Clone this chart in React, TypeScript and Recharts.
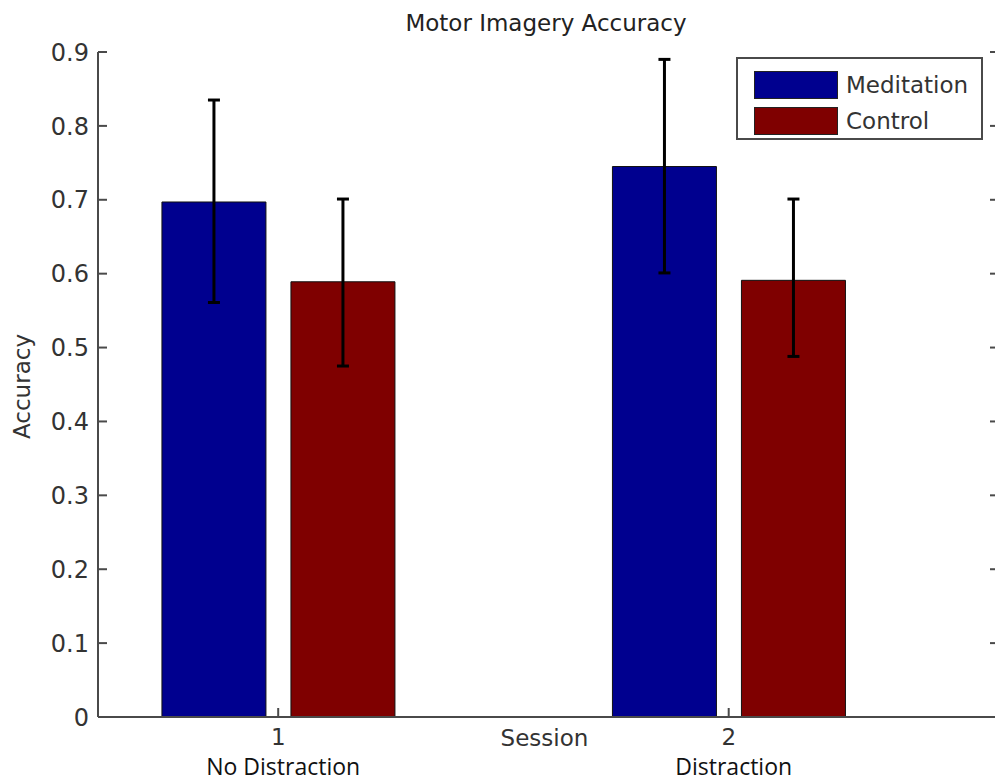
import React from "react";
import { BarChart, Bar, XAxis, YAxis, ErrorBar, Legend } from "recharts";

// values
const sessions = [1, 2];
const sessionNames = ["No Distraction", "Distraction"];
const seriesNames = ["Meditation", "Control"];
const meditation = [0.697, 0.745];
const meditationErr = [
  [0.136, 0.138],
  [0.144, 0.145],
];
const control = [0.589, 0.591];
const controlErr = [
  [0.114, 0.112],
  [0.103, 0.11],
];
const yTicks = [0, 0.1, 0.2, 0.3, 0.4, 0.5, 0.6, 0.7, 0.8, 0.9];

const data = sessions.map((s, i) => ({
  session: s,
  meditation: meditation[i],
  meditationErr: meditationErr[i],
  control: control[i],
  controlErr: controlErr[i],
}));

const FONT = '"DejaVu Sans", Arial, sans-serif';
const AXIS = "#4a4a4a";
const TEXT = "#333";
const TICK_LEN = 9;

const LeftTick = ({ x, y, payload }) => (
  <g>
    <line x1={x} x2={x + TICK_LEN} y1={y} y2={y} stroke={AXIS} strokeWidth={2} />
    <text
      x={x - 9}
      y={y}
      dy="0.36em"
      textAnchor="end"
      fontFamily={FONT}
      fontSize={24}
      fill={TEXT}
    >
      {payload.value}
    </text>
  </g>
);

const RightTick = ({ x, y }) => (
  <line x1={x - TICK_LEN} x2={x} y1={y} y2={y} stroke={AXIS} strokeWidth={2} />
);

const TopTick = ({ x, y }) => (
  <line x1={x} x2={x} y1={y} y2={y + TICK_LEN} stroke={AXIS} strokeWidth={2} />
);

const BottomTick = ({ x, y, payload, index }) => (
  <g>
    <line x1={x} x2={x} y1={y - TICK_LEN} y2={y} stroke={AXIS} strokeWidth={2} />
    <text x={x} y={y} dy={28} textAnchor="middle" fontFamily={FONT} fontSize={23} fill={TEXT}>
      {payload.value}
    </text>
    <text
      x={x + 5}
      y={y}
      dy={58}
      textAnchor="middle"
      fontFamily='"Open Sans", sans-serif'
      fontSize={23}
      fill="#111"
    >
      {sessionNames[index]}
    </text>
  </g>
);

const YLabel = ({ viewBox }) => {
  const cx = viewBox.x + 22;
  const cy = viewBox.y + viewBox.height / 2 + 2;
  return (
    <text
      x={cx}
      y={cy}
      transform={`rotate(-90, ${cx}, ${cy})`}
      textAnchor="middle"
      dominantBaseline="central"
      fontFamily={FONT}
      fontSize={23}
      fill={TEXT}
    >
      Accuracy
    </text>
  );
};

const XLabel = ({ viewBox }) => (
  <text
    x={viewBox.x + viewBox.width / 2 - 4}
    y={viewBox.y + 29}
    textAnchor="middle"
    fontFamily={FONT}
    fontSize={23}
    fill={TEXT}
  >
    Session
  </text>
);

const LegendBox = ({ payload }) => {
  const items = [...(payload || [])].sort(
    (a, b) => seriesNames.indexOf(a.value) - seriesNames.indexOf(b.value)
  );
  return (
    <div
      style={{
        border: `2px solid ${AXIS}`,
        background: "#fff",
        width: 247,
        height: 83,
        padding: "8px 0 0 16px",
        boxSizing: "border-box",
      }}
    >
      {items.map((p) => (
        <div key={p.value} style={{ display: "flex", alignItems: "center", height: 36 }}>
          <span
            style={{
              display: "inline-block",
              width: 84,
              height: 28,
              background: p.color,
              border: "1.5px solid #222",
              boxSizing: "border-box",
            }}
          />
          <span
            style={{
              marginLeft: 8,
              fontFamily: FONT,
              fontSize: 23,
              color: TEXT,
            }}
          >
            {p.value}
          </span>
        </div>
      ))}
    </div>
  );
};

export default function App() {
  return (
    <div
      style={{
        position: "absolute",
        left: 0,
        top: 0,
        width: 995,
        height: 783,
        overflow: "hidden",
        background: "#fff",
      }}
    >
      <div
        style={{
          position: "absolute",
          top: 10,
          left: 0,
          width: 1092,
          textAlign: "center",
          fontFamily: FONT,
          fontSize: 23,
          lineHeight: "26px",
          color: "#222",
          zIndex: 2,
        }}
      >
        Motor Imagery Accuracy
      </div>
      <BarChart
        width={1003}
        height={783}
        data={data}
        margin={{ top: 52, right: 0, bottom: 0, left: 0 }}
        barSize={104}
        barGap={25}
      >
        <XAxis
          xAxisId="bottom"
          dataKey="session"
          type="number"
          domain={[0.6, 2.6]}
          ticks={sessions}
          allowDataOverflow
          height={66}
          tickSize={0}
          tickMargin={0}
          tick={<BottomTick />}
          axisLine={{ stroke: AXIS, strokeWidth: 2 }}
          tickLine={false}
          label={<XLabel />}
        />
        <XAxis
          xAxisId="top"
          orientation="top"
          dataKey="session"
          type="number"
          domain={[0.6, 2.6]}
          ticks={sessions}
          allowDataOverflow
          height={0}
          tickSize={0}
          tickMargin={0}
          tick={<TopTick />}
          axisLine={{ stroke: AXIS, strokeWidth: 2 }}
          tickLine={false}
        />
        <YAxis
          yAxisId="left"
          domain={[0, 0.9]}
          ticks={yTicks}
          allowDataOverflow
          width={98}
          tickSize={0}
          tickMargin={0}
          tick={<LeftTick />}
          axisLine={{ stroke: AXIS, strokeWidth: 2 }}
          tickLine={false}
          label={<YLabel />}
        />
        <YAxis
          yAxisId="right"
          orientation="right"
          domain={[0, 0.9]}
          ticks={yTicks}
          allowDataOverflow
          width={4}
          tickSize={0}
          tickMargin={0}
          tick={<RightTick />}
          axisLine={{ stroke: AXIS, strokeWidth: 2 }}
          tickLine={false}
        />
        <Legend
          layout="vertical"
          align="center"
          verticalAlign="middle"
          wrapperStyle={{ top: 57, left: 736, width: 247 }}
          content={<LegendBox />}
        />
        <Bar
          xAxisId="bottom"
          yAxisId="left"
          dataKey="meditation"
          name="Meditation"
          fill="#00008f"
          stroke="#111"
          strokeWidth={1}
          legendType="rect"
          isAnimationActive={false}
        >
          <ErrorBar dataKey="meditationErr" direction="y" width={6} stroke="#000" strokeWidth={3} />
        </Bar>
        <Bar
          xAxisId="bottom"
          yAxisId="left"
          dataKey="control"
          name="Control"
          fill="#7f0000"
          stroke="#111"
          strokeWidth={1}
          legendType="rect"
          isAnimationActive={false}
        >
          <ErrorBar dataKey="controlErr" direction="y" width={6} stroke="#000" strokeWidth={3} />
        </Bar>
      </BarChart>
    </div>
  );
}
